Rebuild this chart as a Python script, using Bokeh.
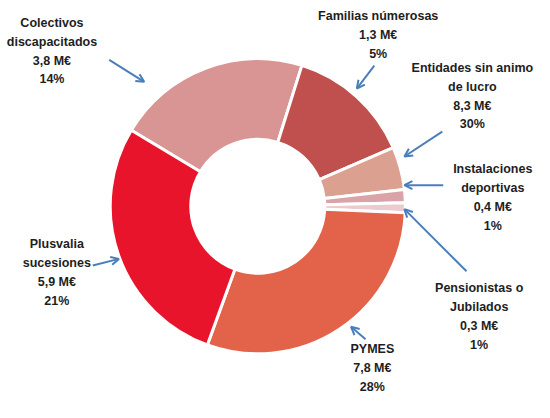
import math
from bokeh.plotting import figure
from bokeh.models import ColumnDataSource, Range1d, Arrow, OpenHead
from bokeh.core.properties import value
from bokeh.embed import file_html
from bokeh.resources import INLINE

# ---- data (slice order, clockwise) ----
categories = ["Plusvalia sucesiones", "Colectivos discapacitados", "Familias númerosas",
              "Instalaciones deportivas", "Pensionistas o Jubilados",
              "Entidades sin animo de lucro", "PYMES"]
values_meur = [5.9, 3.8, 1.3, 0.4, 0.3, 8.3, 7.8]
slice_colors = ["#D99594", "#C0504D", "#DBA08F", "#D9A3AA", "#EDCACD", "#E2634A", "#E8142B"]

# ---- labels (as printed in the chart) ----
label_names = ["Colectivos\ndiscapacitados", "Familias númerosas", "Entidades sin animo\nde lucro",
               "Instalaciones\ndeportivas", "Pensionistas o\nJubilados", "PYMES",
               "Plusvalia\nsucesiones"]
label_values = [3.8, 1.3, 8.3, 0.4, 0.3, 7.8, 5.9]
label_pcts = [14, 5, 30, 1, 1, 28, 21]

# layout (reference px)
label_pos = [(53, 16), (389, 9), (486, 63), (507, 169), (493, 293), (383, 357), (58, 247)]
arrow_pos = [((112, 62), (148, 85)), ((385, 68), (367, 92)), ((455, 137), (416, 163)),
             ((456, 193), (416, 193)), ((480, 283), (416, 218)), ((376, 354), (361, 341)),
             ((95, 277), (122, 270))]

W, H = 534, 400
RW, RH = 550, 418
def Y(s):
    return RH - s

p = figure(width=W, height=H, x_range=Range1d(0, RW), y_range=Range1d(0, RH),
           output_backend="svg", toolbar_location=None, min_border=0)
p.axis.visible = False
p.grid.visible = False
p.outline_line_color = None

# wedges
total = sum(values_meur)
start_theta = 301.0  # degrees clockwise from 12 o'clock
starts, ends = [], []
th = start_theta
for v in values_meur:
    sweep = v / total * 360.0
    starts.append(math.radians(90 - th))
    ends.append(math.radians(90 - th - sweep))
    th += sweep

src = ColumnDataSource(dict(start=starts, end=ends, color=slice_colors, cat=categories))
p.annular_wedge(x=265, y=Y(215), inner_radius=69, outer_radius=152,
                start_angle="start", end_angle="end", direction="clock",
                fill_color="color", line_color="white", line_width=3, source=src)

# labels
def fmt(v):
    return ("%.1f" % v).replace(".", ",") + " M€"

texts = [f"{n}\n{fmt(v)}\n{pc}%" for n, v, pc in zip(label_names, label_values, label_pcts)]
lsrc = ColumnDataSource(dict(x=[q[0] for q in label_pos], y=[Y(q[1]) for q in label_pos], t=texts))
p.text(x="x", y="y", text="t", source=lsrc, text_align="center", text_baseline="top",
       text_font=value("Liberation Sans"),
       text_font_style="bold", text_font_size="12.5px", text_line_height=1.35, text_color="#1E1E1E")

for (t, h) in arrow_pos:
    p.add_layout(Arrow(x_start=t[0], y_start=Y(t[1]), x_end=h[0], y_end=Y(h[1]),
                       line_color="#4A7EBB", line_width=2,
                       end=OpenHead(size=8, line_color="#4A7EBB", line_width=2)))

open("out.html", "w").write(file_html(p, INLINE))
